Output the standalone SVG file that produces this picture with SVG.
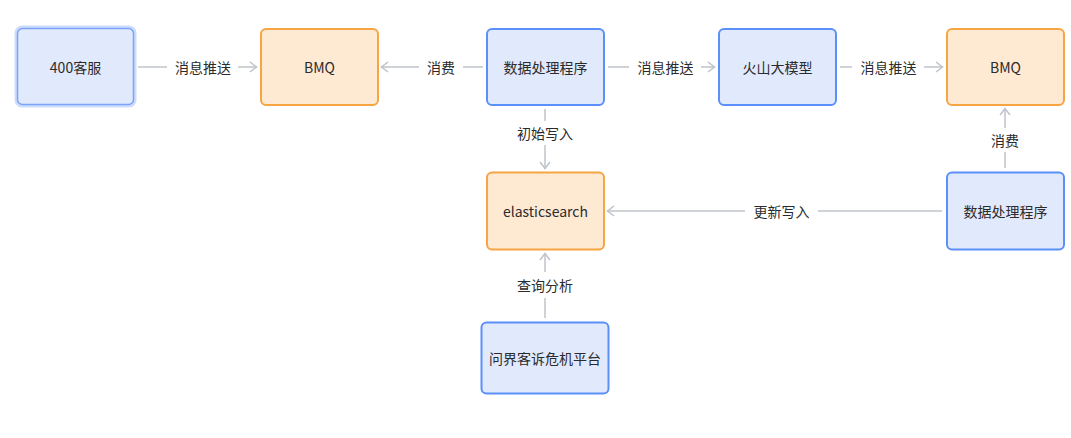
<svg xmlns="http://www.w3.org/2000/svg" width="1071" height="438" viewBox="0 0 1071 438">
<defs>
<marker id="arr" viewBox="0 0 10 12" refX="9" refY="6" markerWidth="10" markerHeight="12" markerUnits="userSpaceOnUse" orient="auto">
<path d="M2,1 L8.5,6 L2,11" fill="none" stroke="#bfc3ca" stroke-width="1.5"/>
</marker>
<style>
.blue{fill:#e1e9fd;stroke:#5b8ff9;stroke-width:2}
.orange{fill:#fee9d3;stroke:#f7a443;stroke-width:2}
.t{font-family:"Noto Sans CJK SC","Noto Sans",sans-serif;font-size:14px;fill:#2b2b2b;text-anchor:middle;dominant-baseline:central}
.e{fill:none;stroke:#bfc3ca;stroke-width:1.5}
.lb{fill:#ffffff}
</style>
</defs>
<rect width="1071" height="438" fill="#ffffff"/>
<g id="edges">
<line class="e" x1="138" y1="67" x2="257" y2="67" marker-end="url(#arr)"/>
<rect class="lb" x="167" y="57" width="71" height="20"/><text class="t" x="203" y="67">消息推送</text>
<line class="e" x1="483" y1="67" x2="381" y2="67" marker-end="url(#arr)"/>
<rect class="lb" x="419" y="57" width="44" height="20"/><text class="t" x="441" y="67">消费</text>
<line class="e" x1="608" y1="67" x2="715" y2="67" marker-end="url(#arr)"/>
<rect class="lb" x="629" y="57" width="72" height="20"/><text class="t" x="665.5" y="67">消息推送</text>
<line class="e" x1="840" y1="67" x2="943" y2="67" marker-end="url(#arr)"/>
<rect class="lb" x="852" y="57" width="72" height="20"/><text class="t" x="888.5" y="67">消息推送</text>
<line class="e" x1="545" y1="109" x2="545" y2="169" marker-end="url(#arr)"/>
<rect class="lb" x="508" y="121" width="74" height="24"/><text class="t" x="545" y="133">初始写入</text>
<line class="e" x1="545" y1="318" x2="545" y2="253" marker-end="url(#arr)"/>
<rect class="lb" x="508" y="272" width="74" height="26"/><text class="t" x="545" y="285">查询分析</text>
<line class="e" x1="1005" y1="168" x2="1005" y2="108" marker-end="url(#arr)"/>
<rect class="lb" x="985" y="128" width="40" height="24"/><text class="t" x="1005" y="140">消费</text>
<line class="e" x1="942" y1="211" x2="607" y2="211" marker-end="url(#arr)"/>
<rect class="lb" x="745" y="201" width="73" height="20"/><text class="t" x="781.5" y="211">更新写入</text>
</g>
<g id="n400">
<rect x="16" y="27" width="119" height="79" rx="6" fill="none" stroke="#cddcfc" stroke-width="3"/>
<rect x="17.5" y="28.5" width="116" height="76" rx="5" fill="#e1e9fd" stroke="#7ba3f8" stroke-width="1.5"/>
<text class="t" x="75.5" y="67">400客服</text>
</g>
<g id="bmq1">
<rect class="orange" x="261" y="29" width="117" height="76" rx="5"/>
<text class="t" x="319.5" y="67">BMQ</text>
</g>
<g id="proc1">
<rect class="blue" x="487" y="29" width="117" height="76" rx="5"/>
<text class="t" x="545.5" y="67">数据处理程序</text>
</g>
<g id="volc">
<rect class="blue" x="719" y="29" width="117" height="76" rx="5"/>
<text class="t" x="777.5" y="67">火山大模型</text>
</g>
<g id="bmq2">
<rect class="orange" x="947" y="29" width="117" height="76" rx="5"/>
<text class="t" x="1005.5" y="67">BMQ</text>
</g>
<g id="es">
<rect class="orange" x="487" y="172.5" width="117" height="77" rx="5"/>
<text class="t" x="545.5" y="211">elasticsearch</text>
</g>
<g id="proc2">
<rect class="blue" x="947" y="172.5" width="117" height="77" rx="5"/>
<text class="t" x="1005.5" y="211">数据处理程序</text>
</g>
<g id="wenjie">
<rect class="blue" x="481.5" y="322.5" width="127" height="71" rx="5"/>
<text class="t" x="545" y="358">问界客诉危机平台</text>
</g>
</svg>
